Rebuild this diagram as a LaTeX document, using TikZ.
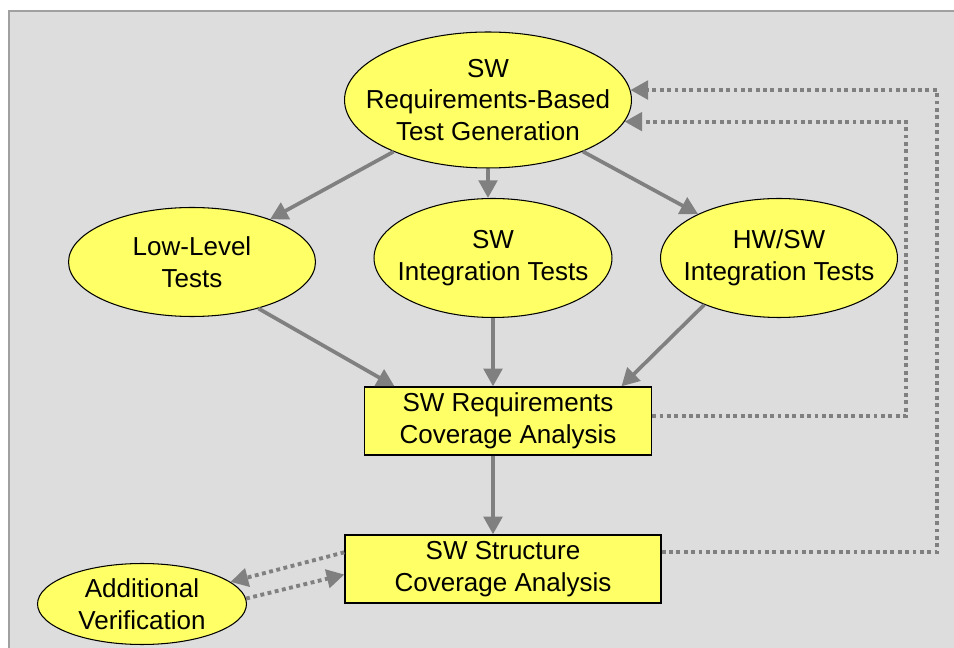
\documentclass[tikz,border=0pt]{standalone}
\usepackage{fontspec}
\setmainfont{Liberation Sans}
\usepackage{tikz}
\usetikzlibrary{shapes.geometric,arrows.meta}
\definecolor{panel}{HTML}{DDDDDD}
\definecolor{frame}{HTML}{A0A0A0}
\definecolor{lemon}{HTML}{FFFF66}
\definecolor{wire}{HTML}{808080}

\begin{document}
\begin{tikzpicture}[x=0.02cm,y=-0.02cm,
	font=\fontsize{14.8}{18}\selectfont,
	oval/.style={ellipse,draw,fill=lemon,inner sep=0pt,line width=0.6pt},
	txt/.style={align=center,inner sep=0pt},
	block/.style={draw,fill=lemon,align=center,inner sep=0pt,line width=0.8pt,minimum height=1.36cm},
	flow/.style={draw=wire,line width=2.1pt,-{Triangle[length=10pt,width=10.5pt]}},
	feedback/.style={draw=wire,line width=2.2pt,dash pattern=on 2.2pt off 2pt,-{Triangle[length=10pt,width=10.5pt]}}]
				\useasboundingbox (0,0) rectangle (954,648);
				\fill[panel] (9,11) rectangle (954,648);
				\draw[frame,line width=1.1pt] (9,648) -- (9,11) -- (954,11);

				\node[oval,minimum width=5.74cm,minimum height=2.72cm,label={[txt]center:SW\\Requirements-Based\\Test Generation}] (top) at (488,100) {};
				\node[oval,minimum width=4.94cm,minimum height=2.18cm,label={[txt]center:Low-Level\\Tests}] (low) at (192,262) {};
				\node[oval,minimum width=4.76cm,minimum height=2.38cm,label={[txt]center:SW\\Integration Tests}] (swint) at (493,258) {};
				\node[oval,minimum width=4.74cm,minimum height=2.38cm,label={[txt]center:HW/SW\\Integration Tests}] (hw) at (779,258) {};
				\node[block,minimum width=5.74cm] (box1) at (508,421) {SW Requirements\\Coverage Analysis};
				\node[block,minimum width=6.32cm] (box2) at (503,569) {SW Structure\\Coverage Analysis};
				\node[oval,minimum width=4.18cm,minimum height=1.62cm,label={[txt]center:Additional\\Verification}] (add) at (142,604) {};

				\draw[flow] (top) -- (low);
				\draw[flow] (top.south) -- (top.south |- swint.north);
				\draw[flow] (top) -- (hw);
				\draw[flow] (low.-35) -- (box1.163);
				\draw[flow] (swint) -- (swint |- box1.north);
				\draw[flow] (hw.212) -- (box1.17);
				\draw[flow] (box1.south -| swint) -- (box2.north -| swint);

				\coordinate (loopA) at (906,300);
				\coordinate (loopB) at (937,300);
				\draw[feedback] (box1.2) -| (loopA) |- (top.-9);
				\draw[feedback] (box2.6) -| (loopB) |- (top.4);
				\draw[feedback] (box2.174) -- (add.14);
				\draw[feedback] (add.3) -- (box2.182);
				\end{tikzpicture}
\end{document}
